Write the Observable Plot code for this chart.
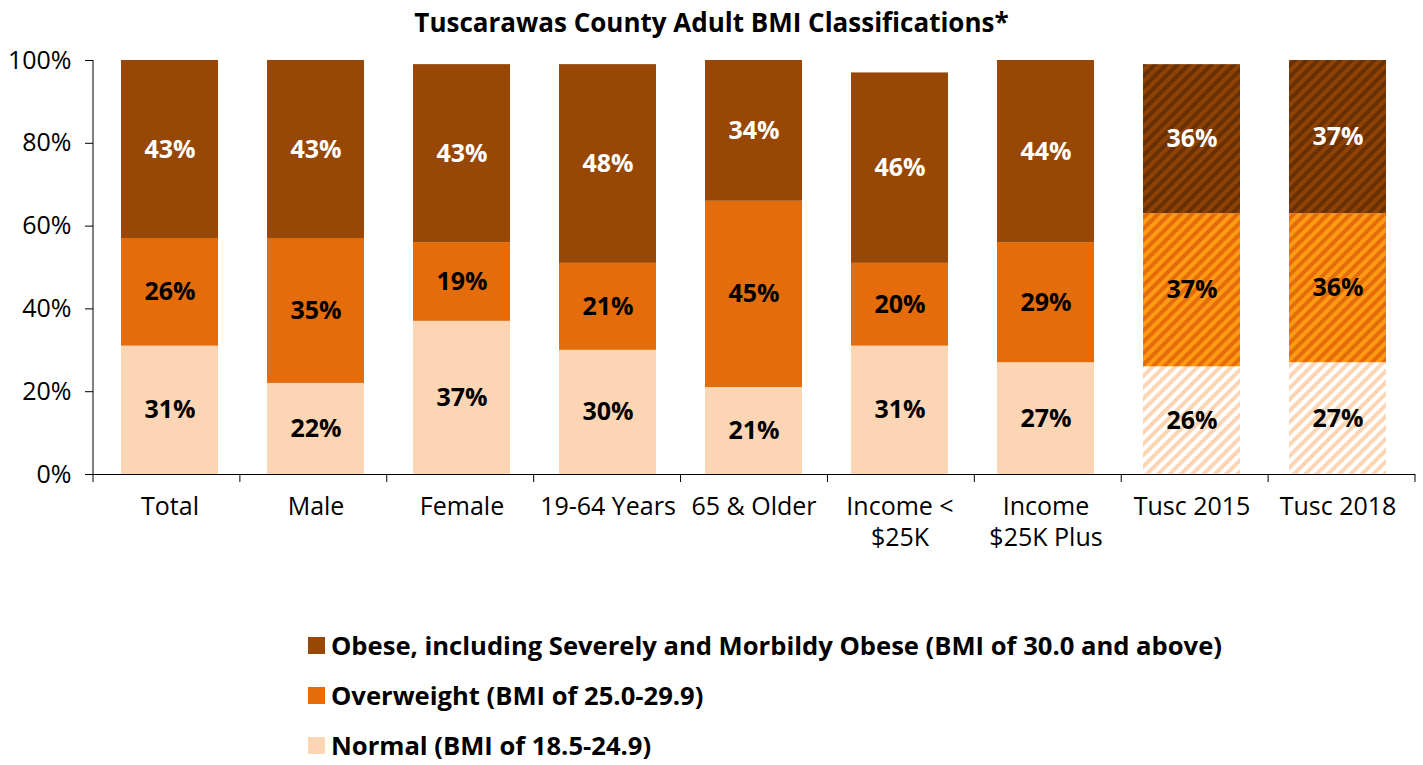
<!DOCTYPE html>
<html><head><meta charset="utf-8">
<script src="https://cdn.jsdelivr.net/npm/d3@7"></script>
<script src="https://cdn.jsdelivr.net/npm/@observablehq/plot@0.6"></script>
<style>
body{margin:0;background:#fff;font-family:"Open Sans",sans-serif;color:#000;}
#title{height:40px;line-height:44px;text-align:center;font-weight:700;font-size:26px;}
#legend{margin-left:308px;margin-top:20px}
.item{display:flex;align-items:center;height:50px;font-weight:700;font-size:25.6px}
.sw{width:17px;height:17px;margin-right:6px;flex:none}
</style></head><body>
<div id="title">Tuscarawas County Adult BMI Classifications*</div>
<div id="chart"></div>
<div id="legend"></div>
<script>
const categories = ["Total","Male","Female","19-64 Years","65 & Older","Income <\n$25K","Income\n$25K Plus","Tusc 2015","Tusc 2018"];
const normal     = [31,22,37,30,21,31,27,26,27];
const overweight = [26,35,19,21,45,20,29,37,36];
const obese      = [43,43,43,48,34,46,44,36,37];
const patterned  = ["Tusc 2015","Tusc 2018"];
const seriesNames = ["Normal","Overweight","Obese"];
const seriesValues = [normal, overweight, obese];
const legendLabels = [
  "Obese, including Severely and Morbildy Obese (BMI of 30.0 and above)",
  "Overweight (BMI of 25.0-29.9)",
  "Normal (BMI of 18.5-24.9)"
];
const yTicks = [0,20,40,60,80,100];

const solidColors = {Normal:"#FCD5B5", Overweight:"#E46C0A", Obese:"#974706"};
const patternDefs = {
  Normal:{base:"#FCD5B5", stripe:"#FFFFFF"},
  Overweight:{base:"#E46C0A", stripe:"#FF9A12"},
  Obese:{base:"#8E4205", stripe:"#683003"}
};

const data = [];
categories.forEach((c,i)=>{
  seriesNames.forEach((s,j)=>{
    const p = patterned.includes(c);
    data.push({category:c, series:s, value:seriesValues[j][i], key: s + (p ? "-p" : "")});
  });
});
const colorDomain = [...seriesNames, ...seriesNames.map(s=>s+"-p")];
const colorRange = [...seriesNames.map(s=>solidColors[s]), ...seriesNames.map(s=>`url(#pat-${s})`)];

const W = 1423, H = 560;
const plot = Plot.plot({
  width: W, height: H,
  marginTop: 20, marginBottom: 126, marginLeft: 93, marginRight: 8,
  style: {fontFamily: '"Open Sans", sans-serif', color: "#000", background: "#fff"},
  x: {domain: categories, paddingInner: 1/3, paddingOuter: 1/6, label: null},
  y: {domain: [0,100], label: null},
  color: {type: "ordinal", domain: colorDomain, range: colorRange},
  marks: [
    Plot.barY(data, {x: "category", y: "value", fill: "key", order: null}),
    Plot.text(data, Plot.stackY({x: "category", y: "value", order: null,
      text: d => d.series === "Obese" ? "" : d.value + "%", fill: "#000",
      fontSize: 25, fontWeight: 700})),
    Plot.text(data, Plot.stackY({x: "category", y: "value", order: null,
      text: d => d.series === "Obese" ? d.value + "%" : "", fill: "#fff",
      fontSize: 25, fontWeight: 700})),
    Plot.ruleY([0], {stroke: "#000"}),
    Plot.axisY({ticks: yTicks, tickSize: 8, tickPadding: 14, tickFormat: d => d + "%", fontSize: 25, label: null}),
    Plot.axisX({tickSize: 0, tickPadding: 18, fontSize: 25, lineHeight: 1.25, label: null})
  ]
});
document.getElementById("chart").appendChild(plot);

// pattern definitions, axis line and category-boundary ticks via the plot's scales
const svg = d3.select(plot);
const defs = svg.insert("defs", ":first-child");
seriesNames.forEach(s=>{
  const p = defs.append("pattern").attr("id", `pat-${s}`).attr("patternUnits","userSpaceOnUse")
    .attr("width", 8).attr("height", 8).attr("patternTransform","rotate(45)");
  p.append("rect").attr("width",8).attr("height",8).attr("fill",patternDefs[s].base);
  p.append("rect").attr("width",4).attr("height",8).attr("fill",patternDefs[s].stripe);
});
const xs = plot.scale("x"), ys = plot.scale("y");
const x0 = xs.range[0], x1 = xs.range[1];
const step = (x1 - x0) / categories.length;
const y0 = ys.apply(0), yTop = ys.apply(100);
const g = svg.append("g").attr("stroke","#000").attr("stroke-width",1);
g.append("line").attr("x1",x0).attr("x2",x0).attr("y1",yTop).attr("y2",y0);
d3.range(categories.length + 1).forEach(i=>{
  const x = x0 + i*step;
  g.append("line").attr("x1",x).attr("x2",x).attr("y1",y0).attr("y2",y0+8);
});

const legend = d3.select("#legend");
[["Obese",0],["Overweight",1],["Normal",2]].forEach(([s,i])=>{
  const it = legend.append("div").attr("class","item");
  it.append("div").attr("class","sw").style("background", solidColors[s]);
  it.append("span").text(legendLabels[i]);
});
</script>
</body></html>
